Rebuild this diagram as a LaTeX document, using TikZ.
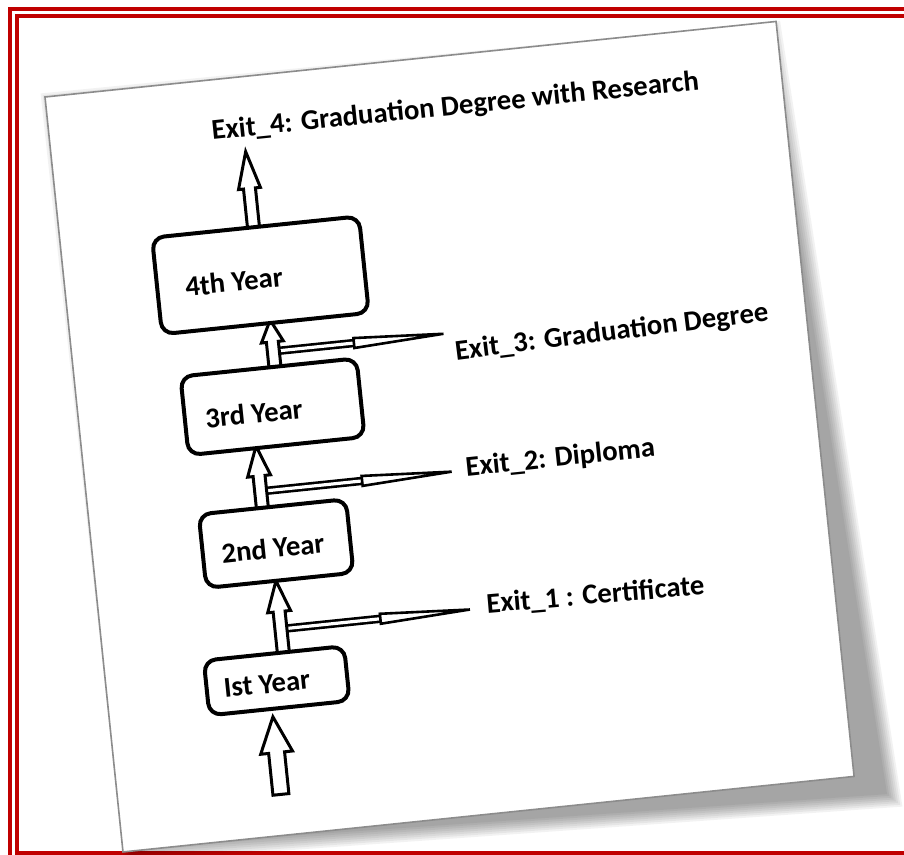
\documentclass[tikz,border=0pt]{standalone}
\usepackage{fontspec}
\setmainfont{Carlito}
\usepackage{tikz}
\usetikzlibrary{calc}
\definecolor{framered}{RGB}{192,0,0}
\tikzset{redframe/.style={draw=framered, line width=2pt}}
\tikzset{paper/.style={draw=black!45, line width=0.8pt, fill=white}}
\tikzset{yearbox/.style={draw, line width=2pt, rounded corners=6pt, fill=white, inner sep=0pt}}
\tikzset{yeartext/.style={font=\fontsize{14.35}{17}\selectfont\bfseries, inner sep=0pt, anchor=base}}
\tikzset{exitlabel/.style={font=\fontsize{14.35}{17}\selectfont\bfseries, inner sep=0pt, anchor=base west}}
\tikzset{blockarrow/.style={draw, fill=white, line width=1.5pt}}
\tikzset{exitshaft/.style={draw, double, double distance=1.6pt, line width=1.3pt}}
\tikzset{exithead/.style={draw, fill=white, line width=1.3pt}}

\begin{document}
\begin{tikzpicture}[x=0.5pt, y=-0.5pt]
    \useasboundingbox (0,0) rectangle (904,855);
    \clip (0,0) rectangle (904,855);
    \fill[white] (0,0) rectangle (904,855);
    \draw[redframe] (10,9) rectangle (930,880);
    \draw[redframe] (17,16.5) rectangle (920,853);
    \begin{scope}[shift={(45,97)}, rotate=5.9, transform shape]
        % sheet and its shadow
        \foreach \k in {0,2,...,14}
            \fill[black, opacity=0.05] (-4+\k,-4+\k) -- (739-\k,\k) -- (780-\k,794-\k) -- (\k,769-\k) -- cycle;
        \draw[paper] (0,0) rectangle (735,759);

        \coordinate (s3) at (201,276.5);
        \coordinate (t3) at (372,276.5);
        \coordinate (s2) at (174,414.5);
        \coordinate (t2) at (366,414.5);
        \coordinate (s1) at (180,553.5);
        \coordinate (t1) at (370,553.5);
        \draw[exitshaft] (s3) -- ($(t3)!45pt!(s3)$);
        \draw[exithead] (t3) -- ++(-90,-5) -- ++(0,10) -- cycle;
        \draw[exitshaft] (s2) -- ($(t2)!45pt!(s2)$);
        \draw[exithead] (t2) -- ++(-90,-5) -- ++(0,10) -- cycle;
        \draw[exitshaft] (s1) -- ($(t1)!45pt!(s1)$);
        \draw[exithead] (t1) -- ++(-90,-5) -- ++(0,10) -- cycle;

        \coordinate (t01) at (163,640);
        \coordinate (t12) at (180,505);
        \coordinate (t23) at (174,369);
        \coordinate (t34) at (201,245);
        \coordinate (t4x) at (194,75);
        \draw[blockarrow] (t01) -- ++(16,36) -- ++(-8,0) -- ++(0,42) -- ++(-16,0) -- ++(0,-42) -- ++(-8,0) -- cycle;
        \draw[blockarrow] (t12) -- ++(11.5,31) -- ++(-5.5,0) -- ++(0,60) -- ++(-12,0) -- ++(0,-60) -- ++(-5.5,0) -- cycle;
        \draw[blockarrow] (t23) -- ++(11.5,30) -- ++(-5.5,0) -- ++(0,60) -- ++(-12,0) -- ++(0,-60) -- ++(-5.5,0) -- cycle;
        \draw[blockarrow] (t34) -- ++(11,22) -- ++(-5,0) -- ++(0,60) -- ++(-12,0) -- ++(0,-60) -- ++(-5,0) -- cycle;
        \draw[blockarrow] (t4x) -- ++(11,37) -- ++(-5,0) -- ++(0,60) -- ++(-12,0) -- ++(0,-60) -- ++(-5,0) -- cycle;

        \node[yearbox, minimum width=104pt, minimum height=48.5pt] (y4) at (196,199.5) {};
        \node[yearbox, minimum width=88.5pt, minimum height=39.5pt] (y3) at (194.5,331.5) {};
        \node[yearbox, minimum width=74pt, minimum height=37pt] (y2) at (184,468) {};
        \node[yearbox, minimum width=70.5pt, minimum height=27.5pt] (y1) at (170.5,604.5) {};
        \node[yeartext] (y4t) at (169,213) {4th Year};
        \node[yeartext] (y3t) at (175.4,346) {3rd Year};
        \node[yeartext] (y2t) at (180.4,482) {2nd Year};
        \node[yeartext] (y1t) at (160.5,616) {Ist Year};

        \node[exitlabel] (ex4) at (162,60) {Exit\_4: Graduation Degree with Research};
        \node[exitlabel, rotate=1.3] (ex3) at (381.7,304) {Exit\_3: Graduation Degree};
        \node[exitlabel] (ex2) at (380,420.4) {Exit\_2: Diploma};
        \node[exitlabel, rotate=-1] (ex1) at (386.6,558.8) {Exit\_1 : Certificate};
    \end{scope}
\end{tikzpicture}
\end{document}
